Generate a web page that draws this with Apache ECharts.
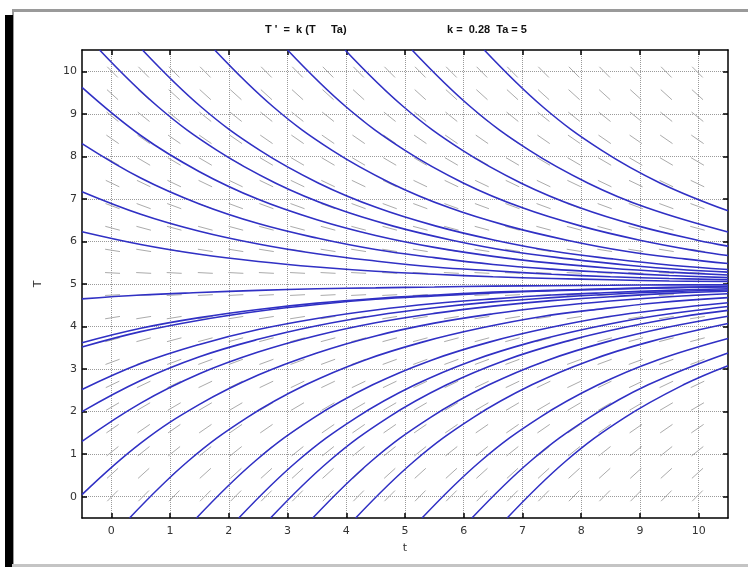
<!DOCTYPE html>
<html>
<head>
<meta charset="utf-8">
<script src="https://cdn.jsdelivr.net/npm/echarts@6/dist/echarts.min.js"></script>
<style>
  html, body { margin: 0; padding: 0; background: #fff; }
  #chart { width: 748px; height: 567px; }
</style>
</head>
<body>
<div id="chart"></div>
<script>
// tick labels
const tTicks = [0, 1, 2, 3, 4, 5, 6, 7, 8, 9, 10];
const TTicks = [0, 1, 2, 3, 4, 5, 6, 7, 8, 9, 10];

// direction field grid (gray dashes): columns, rows and slope of each row
const fieldCols = [0.02, 0.55, 1.07, 1.60, 2.12, 2.64, 3.17, 3.69, 4.21, 4.74, 5.26, 5.79, 6.31, 6.83, 7.36, 7.88, 8.40, 8.93, 9.45, 9.98];
const fieldRows = [0.02, 0.55, 1.07, 1.60, 2.12, 2.64, 3.17, 3.69, 4.21, 4.74, 5.26, 5.79, 6.31, 6.83, 7.36, 7.88, 8.40, 8.93, 9.45, 9.98];
const fieldSlopes = [1.39, 1.25, 1.10, 0.95, 0.81, 0.66, 0.51, 0.37, 0.22, 0.07, -0.07, -0.22, -0.37, -0.51, -0.66, -0.81, -0.95, -1.10, -1.25, -1.39];

// solution curves entering at the left edge, read at these t
const tLeft = [-0.5, 0.5, 1.5, 2.5, 3.5, 4.5, 5.5, 6.5, 7.5, 8.5, 9.5, 10.5];
const leftCurves = [
  [9.62, 8.49, 7.64, 6.99, 6.51, 6.14, 5.86, 5.65, 5.49, 5.37, 5.28, 5.21],
  [8.30, 7.49, 6.88, 6.42, 6.08, 5.81, 5.62, 5.46, 5.35, 5.27, 5.20, 5.15],
  [7.17, 6.64, 6.24, 5.94, 5.71, 5.54, 5.40, 5.31, 5.23, 5.17, 5.13, 5.10],
  [6.23, 5.93, 5.70, 5.53, 5.40, 5.30, 5.23, 5.17, 5.13, 5.10, 5.07, 5.06],
  [4.65, 4.74, 4.80, 4.85, 4.89, 4.91, 4.93, 4.95, 4.96, 4.97, 4.98, 4.98],
  [3.62, 3.96, 4.21, 4.40, 4.55, 4.66, 4.74, 4.81, 4.85, 4.89, 4.92, 4.94],
  [3.52, 3.88, 4.15, 4.36, 4.52, 4.64, 4.72, 4.79, 4.84, 4.88, 4.91, 4.93],
  [2.52, 3.13, 3.58, 3.93, 4.19, 4.39, 4.54, 4.65, 4.74, 4.80, 4.85, 4.89],
  [2.00, 2.73, 3.29, 3.70, 4.02, 4.26, 4.44, 4.58, 4.68, 4.76, 4.82, 4.86],
  [1.30, 2.20, 2.89, 3.40, 3.79, 4.09, 4.31, 4.48, 4.61, 4.70, 4.78, 4.83],
  [0.05, 1.26, 2.17, 2.86, 3.38, 3.78, 4.08, 4.30, 4.47, 4.60, 4.70, 4.77]
];

// solution curves entering through the top edge, [t, T]
const topCurves = [
  [[-0.2, 10.5], [0.8, 9.16], [1.8, 8.14], [2.8, 7.37], [3.8, 6.79], [4.8, 6.36], [5.8, 6.03], [6.8, 5.77], [7.8, 5.59], [8.8, 5.44], [9.8, 5.33], [10.5, 5.28]],
  [[0.53, 10.5], [1.53, 9.16], [2.53, 8.14], [3.53, 7.37], [4.53, 6.79], [5.53, 6.36], [6.53, 6.03], [7.53, 5.77], [8.53, 5.59], [9.53, 5.44], [10.5, 5.34]],
  [[1.76, 10.5], [2.76, 9.16], [3.76, 8.14], [4.76, 7.37], [5.76, 6.79], [6.76, 6.36], [7.76, 6.03], [8.76, 5.77], [9.76, 5.59], [10.5, 5.48]],
  [[3.0, 10.5], [4.0, 9.16], [5.0, 8.14], [6.0, 7.37], [7.0, 6.79], [8.0, 6.36], [9.0, 6.03], [10.0, 5.77], [10.5, 5.67]],
  [[3.98, 10.5], [4.98, 9.16], [5.98, 8.14], [6.98, 7.37], [7.98, 6.79], [8.98, 6.36], [9.98, 6.03], [10.5, 5.89]],
  [[5.12, 10.5], [6.12, 9.16], [7.12, 8.14], [8.12, 7.37], [9.12, 6.79], [10.5, 6.22]],
  [[6.35, 10.5], [7.35, 9.16], [8.35, 8.14], [9.35, 7.37], [10.5, 6.72]]
];

// solution curves entering through the bottom edge, [t, T]
const bottomCurves = [
  [[0.31, -0.5], [1.31, 0.84], [2.31, 1.86], [3.31, 2.63], [4.31, 3.21], [5.31, 3.64], [6.31, 3.97], [7.31, 4.23], [8.31, 4.41], [9.31, 4.56], [10.5, 4.68]],
  [[1.45, -0.5], [2.45, 0.84], [3.45, 1.86], [4.45, 2.63], [5.45, 3.21], [6.45, 3.64], [7.45, 3.97], [8.45, 4.23], [9.45, 4.41], [10.5, 4.56]],
  [[2.17, -0.5], [3.17, 0.84], [4.17, 1.86], [5.17, 2.63], [6.17, 3.21], [7.17, 3.64], [8.17, 3.97], [9.17, 4.23], [10.5, 4.47]],
  [[2.71, -0.5], [3.71, 0.84], [4.71, 1.86], [5.71, 2.63], [6.71, 3.21], [7.71, 3.64], [8.71, 3.97], [9.71, 4.23], [10.5, 4.38]],
  [[3.43, -0.5], [4.43, 0.84], [5.43, 1.86], [6.43, 2.63], [7.43, 3.21], [8.43, 3.64], [9.43, 3.97], [10.5, 4.24]],
  [[4.16, -0.5], [5.16, 0.84], [6.16, 1.86], [7.16, 2.63], [8.16, 3.21], [9.16, 3.64], [10.5, 4.07]],
  [[5.29, -0.5], [6.29, 0.84], [7.29, 1.86], [8.29, 2.63], [9.29, 3.21], [10.5, 3.72]],
  [[6.14, -0.5], [7.14, 0.84], [8.14, 1.86], [9.14, 2.63], [10.5, 3.38]],
  [[6.74, -0.5], [7.74, 0.84], [8.74, 1.86], [9.74, 2.63], [10.5, 3.08]]
];

const chart = echarts.init(document.getElementById('chart'), null, { renderer: 'canvas' });
const font = 'DejaVu Sans';

// direction field data
const fieldData = [];
for (let j = 0; j < fieldRows.length; j++) {
  for (let i = 0; i < fieldCols.length; i++) {
    fieldData.push([fieldCols[i], fieldRows[j], fieldSlopes[j]]);
  }
}

const curveStyle = {
  type: 'line',
  showSymbol: false,
  smooth: 0.4,
  lineStyle: { color: '#3030c4', width: 1.6 },
  z: 3,
  silent: true
};

const series = [{
  type: 'custom',
  data: fieldData,
  z: 2,
  silent: true,
  renderItem: function (params, api) {
    const t = api.value(0), T = api.value(1), s = api.value(2);
    const c = api.coord([t, T]);
    const d = api.coord([t + 1, T + s]);
    let dx = d[0] - c[0], dy = d[1] - c[1];
    const len = Math.sqrt(dx * dx + dy * dy);
    dx = dx / len * 7.5;
    dy = dy / len * 7.5;
    return {
      type: 'line',
      shape: { x1: c[0] - dx, y1: c[1] - dy, x2: c[0] + dx, y2: c[1] + dy },
      style: { stroke: '#ababab', lineWidth: 1 }
    };
  }
}];

leftCurves.forEach(function (vals) {
  series.push(Object.assign({}, curveStyle, { data: vals.map(function (v, i) { return [tLeft[i], v]; }) }));
});
topCurves.concat(bottomCurves).forEach(function (pts) {
  series.push(Object.assign({}, curveStyle, { data: pts }));
});

const axisLine = { show: true, onZero: false, lineStyle: { color: '#000', width: 1.5 } };
const labelStyle = { color: '#333', fontSize: 11, fontFamily: font };
const gridLine = { show: true, lineStyle: { type: 'dotted', color: '#9a9a9a', width: 1 } };
const titleStyle = { fontSize: 11, fontWeight: 'bold', color: '#111', fontFamily: 'Liberation Sans' };

chart.setOption({
  animation: false,
  backgroundColor: '#fff',
  title: [
    { text: "T '  =  k (T     Ta)", left: 265, top: 24, padding: 0, textStyle: titleStyle },
    { text: 'k =  0.28  Ta = 5', left: 447, top: 24, padding: 0, textStyle: titleStyle }
  ],
  grid: { left: 82, right: 20, top: 50, bottom: 49 },
  xAxis: [
    { type: 'value', min: -0.5, max: 10.5, position: 'bottom',
      name: 't', nameLocation: 'middle', nameGap: 25,
      nameTextStyle: { color: '#333', fontSize: 11, fontFamily: font },
      axisLine: axisLine,
      axisTick: { show: true, inside: true, length: 5, customValues: tTicks, lineStyle: { color: '#000', width: 1.5 } },
      axisLabel: Object.assign({ customValues: tTicks, margin: 8 }, labelStyle),
      splitLine: gridLine },
    { type: 'value', min: -0.5, max: 10.5, position: 'top',
      axisLine: axisLine,
      axisTick: { show: true, inside: true, length: 5, customValues: tTicks, lineStyle: { color: '#000', width: 1.5 } },
      axisLabel: { show: false }, splitLine: { show: false } }
  ],
  yAxis: [
    { type: 'value', min: -0.5, max: 10.5, position: 'left',
      name: 'T', nameLocation: 'middle', nameGap: 38, nameRotate: 90,
      nameTextStyle: { color: '#333', fontSize: 11, fontFamily: font },
      axisLine: axisLine,
      axisTick: { show: true, inside: true, length: 5, customValues: TTicks, lineStyle: { color: '#000', width: 1.5 } },
      axisLabel: Object.assign({ customValues: TTicks, margin: 5 }, labelStyle),
      splitLine: gridLine },
    { type: 'value', min: -0.5, max: 10.5, position: 'right',
      axisLine: axisLine,
      axisTick: { show: true, inside: true, length: 5, customValues: TTicks, lineStyle: { color: '#000', width: 1.5 } },
      axisLabel: { show: false }, splitLine: { show: false } }
  ],
  graphic: [
    { type: 'rect', shape: { x: 12, y: 9, width: 736, height: 3 }, style: { fill: '#9a9a9a' }, silent: true },
    { type: 'rect', shape: { x: 12, y: 9, width: 2, height: 558 }, style: { fill: '#9a9a9a' }, silent: true },
    { type: 'rect', shape: { x: 5, y: 15, width: 8, height: 552 }, style: { fill: '#000' }, silent: true },
    { type: 'rect', shape: { x: 12, y: 564, width: 736, height: 3 }, style: { fill: '#c4c4c4' }, silent: true }
  ],
  series: series
});
</script>
</body>
</html>
